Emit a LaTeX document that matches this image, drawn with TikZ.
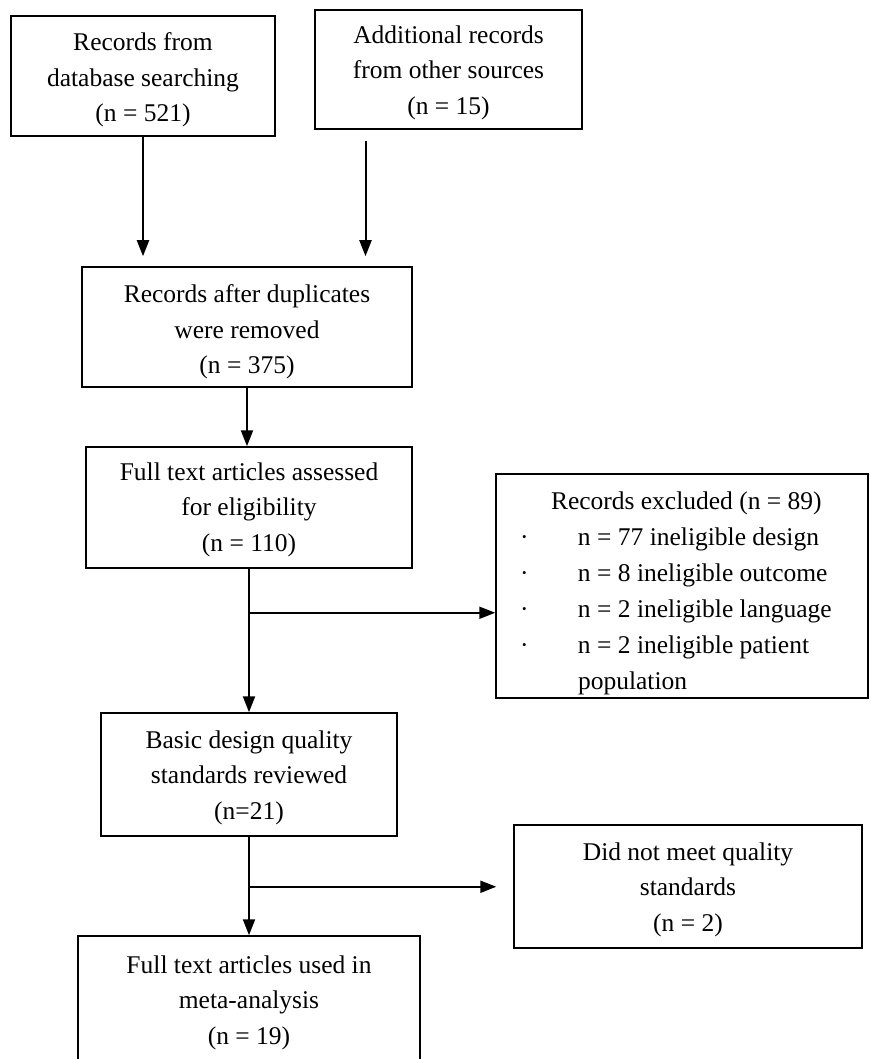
\documentclass[tikz,border=0pt]{standalone}
\usepackage{fontspec}
\setmainfont{Liberation Serif}
\usetikzlibrary{positioning,calc,arrows.meta}
\tikzset{
	box/.style={draw, line width=1.5pt, align=center, inner sep=0pt,
		font=\fontsize{25.5}{35.5}\selectfont},
	arr/.style={line width=2pt, -{Triangle[length=16pt, width=12pt]}},
}
% taller first line, so the text sits a little lower in its box
\newcommand{\up}[1]{\rule{0pt}{#1}}

\begin{document}
\begin{tikzpicture}[x=1pt, y=1pt]
	\clip (0,0) rectangle (870,-1059);
	\useasboundingbox (0,0) rectangle (870,-1059);

	\node[box, minimum width=264pt, minimum height=120pt] (db) at (143,-76) {\up{26pt}Records from\\database searching\\(n = 521)};
	\node[box, minimum width=267pt, minimum height=119pt] (other) at (448.5,-69.5) {\up{24pt}Additional records\\from other sources\\(n = 15)};
	\node[box, minimum width=330pt, minimum height=120pt] (dup) at (247,-327) {\up{28pt}Records after duplicates\\were removed\\(n = 375)};
	\node[box, minimum width=326pt, minimum height=121pt] (full) at (249,-507.5) {\up{22pt}Full text articles assessed\\for eligibility\\(n = 110)};
	\node[box, text width=372pt, minimum height=224pt, align=flush left, font=\fontsize{25.5}{36}\selectfont] (excl) at (682,-586)
		{\up{32pt}\hspace*{55pt}Records excluded (n = 89)\\
		 \hspace*{24pt}\makebox[58pt][l]{·}n = 77 ineligible design\\
		 \hspace*{24pt}\makebox[58pt][l]{·}n = 8 ineligible outcome\\
		 \hspace*{24pt}\makebox[58pt][l]{·}n = 2 ineligible language\\
		 \hspace*{24pt}\makebox[58pt][l]{·}n = 2 ineligible patient\\
		 \hspace*{82pt}population};
	\node[box, minimum width=296pt, minimum height=123pt] (basic) at (249,-774.5) {\up{24pt}Basic design quality\\standards reviewed\\(n=21)};
	\node[box, minimum width=348pt, minimum height=123pt] (notmet) at (688,-886.5) {\up{24pt}Did not meet quality\\standards\\(n = 2)};
	\node[box, minimum width=342pt, minimum height=125pt] (used) at (249,-998.5) {\up{26pt}Full text articles used in\\meta-analysis\\(n = 19)};

	\coordinate (j1) at ($(full.south)+(0,-44)$);
	\coordinate (j2) at ($(basic.south)+(0,-50)$);

	\draw[arr, shorten >=10pt] (db.south) -- (db.south |- dup.north);
	\draw[arr, shorten <=11pt, shorten >=10pt] ([xshift=-83pt]other.south) -- ([xshift=-83pt]other.south |- dup.north);
	\draw[arr] (dup.south) -- (dup.south |- full.north);
	\draw[arr] (full.south) -- (full.south |- basic.north);
	\draw[arr] (j1) -- (j1 -| excl.west);
	\draw[arr] (basic.south) -- (basic.south |- used.north);
	\draw[arr, shorten >=17pt] (j2) -- (j2 -| notmet.west);
\end{tikzpicture}
\end{document}
